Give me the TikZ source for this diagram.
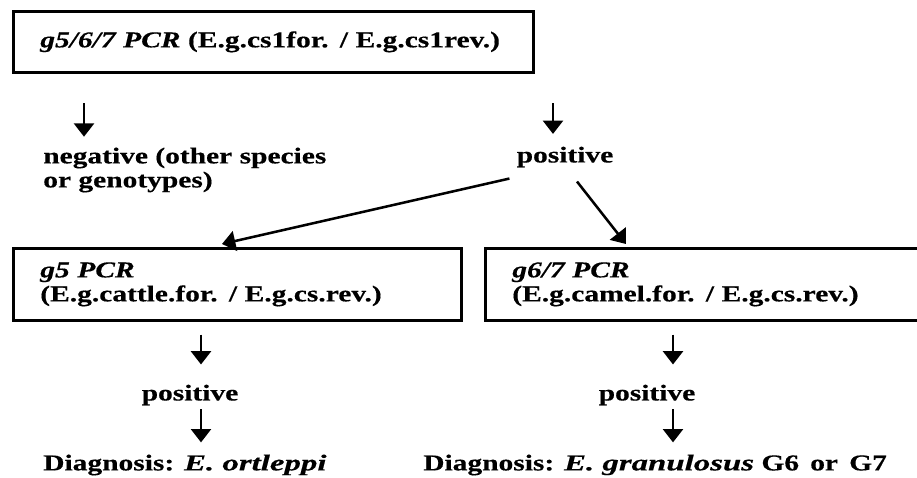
\documentclass[tikz,border=0pt]{standalone}
\usepackage{fontspec}
\setmainfont[FakeStretch=1.3,FakeBold=0.4]{Liberation Serif}
\newfontfamily\speciesfont[FakeStretch=1.45,FakeBold=0.4]{Liberation Serif}
\newcommand{\species}[1]{{\speciesfont\bfseries\itshape #1}}
\usetikzlibrary{arrows.meta,calc}
\begin{document}
\begin{tikzpicture}[x=0.75pt, y=-0.75pt,
  every node/.style={font=\bfseries\fontsize{17}{18}\selectfont, inner sep=0pt, align=left},
  pcrbox/.style={draw, line width=2pt, anchor=north west, inner xsep=20.25pt},
  arr/.style={-{Triangle[width=15pt,length=10pt]}, line width=1.9pt}]
  \useasboundingbox (0,0) rectangle (917,478);
  % PCR boxes
  \node[pcrbox, text width=349.5pt, minimum height=45.75pt] (pcr) at (12,10) {\mbox{\textit{g5/6/7 PCR} (E.g.cs1for. / E.g.cs1rev.)}};
  \node[pcrbox, text width=295.5pt, minimum height=54pt] (g5) at (12,247) {\textit{g5 PCR}\\(E.g.cattle.for. / E.g.cs.rev.)};
  \node[pcrbox, text width=289.5pt, minimum height=54pt] (g67) at (484,247) {\textit{g6/7 PCR}\\(E.g.camel.for. / E.g.cs.rev.)};
  % results
  \node[anchor=west] (neg) at (43,170) {negative (other species\\or genotypes)};
  \node (pos) at (565,157) {positive};
  \node (lpos) at (190,395) {positive};
  \node (rpos) at (647,395) {positive};
  \node[anchor=west] (ldiag) at (43,465) {Diagnosis: \species{E. ortleppi}};
  \node[anchor=west] (rdiag) at (423,465) {Diagnosis: \species{E. granulosus} G6\, or\, G7};
  % arrows
  \coordinate (negtop) at (84,103);
  \coordinate (postop) at (553,103);
  \draw[arr, shorten >=8pt] (negtop) -- (negtop |- neg.north);
  \draw[arr, shorten >=9.4pt] (postop) -- (postop |- pos.north);
  \draw[arr] ($(pos.south west)+(-7,11)$) -- ($(g5.north west)+(210,-3)$);
  \draw[arr] ($(pos.south)+(12,14)$) -- ($(g67.north west)+(142,-3)$);
  \draw[arr, shorten <=9.75pt, shorten >=15pt] ([xshift=8.25pt]lpos.north |- g5.south) -- ([xshift=8.25pt]lpos.north);
  \draw[arr, shorten <=2.6pt, shorten >=9pt] ([xshift=8.25pt]lpos.south) -- ([xshift=8.25pt]lpos.south |- ldiag.north);
  \draw[arr, shorten <=9.75pt, shorten >=15pt] ([xshift=19.5pt]rpos.north |- g67.south) -- ([xshift=19.5pt]rpos.north);
  \draw[arr, shorten <=2.6pt, shorten >=9pt] ([xshift=19.5pt]rpos.south) -- ([xshift=19.5pt]rpos.south |- rdiag.north);
\end{tikzpicture}
\end{document}
